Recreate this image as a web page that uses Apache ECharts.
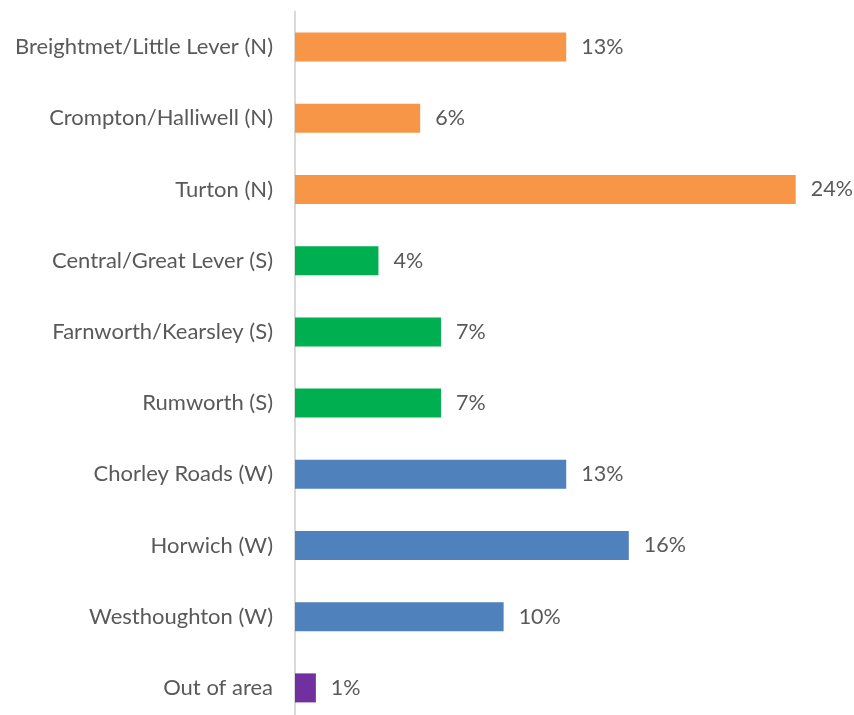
<!DOCTYPE html>
<html>
<head>
<meta charset="utf-8">
<script src="https://cdn.jsdelivr.net/npm/echarts@6/dist/echarts.min.js"></script>
<style>
html,body{margin:0;padding:0;background:#fff;}
#chart{width:854px;height:715px;}
</style>
</head>
<body>
<div id="chart"></div>
<script>
const categories = [
  'Breightmet/Little Lever (N)',
  'Crompton/Halliwell (N)',
  'Turton (N)',
  'Central/Great Lever (S)',
  'Farnworth/Kearsley (S)',
  'Rumworth (S)',
  'Chorley Roads (W)',
  'Horwich (W)',
  'Westhoughton (W)',
  'Out of area'
];
const values = [13, 6, 24, 4, 7, 7, 13, 16, 10, 1];
const groups = ['N', 'N', 'N', 'S', 'S', 'S', 'W', 'W', 'W', 'O'];

const groupColors = { N: '#F79646', S: '#00B050', W: '#4F81BD', O: '#7030A0' };
const FONT = 'Lato';

const chart = echarts.init(document.getElementById('chart'));
chart.setOption({
  animation: false,
  grid: { left: 295, top: 11.5, width: 500.7, height: 712, outerBoundsMode: 'none', containLabel: false },
  xAxis: {
    type: 'value', min: 0, max: 24, show: false
  },
  yAxis: {
    type: 'category',
    inverse: true,
    data: categories,
    axisLine: { show: true, lineStyle: { color: '#D9D9D9', width: 2 } },
    axisTick: { show: false },
    axisLabel: { color: '#595959', fontFamily: FONT, fontSize: 22, margin: 22 }
  },
  series: [{
    type: 'bar',
    barWidth: 29,
    data: values.map((v, i) => ({
      value: v,
      itemStyle: { color: groupColors[groups[i]] }
    })),
    label: {
      show: true, position: 'right', distance: 15,
      formatter: p => p.value + '%',
      color: '#595959', fontFamily: FONT, fontSize: 21.5
    }
  }]
});
</script>
</body>
</html>
